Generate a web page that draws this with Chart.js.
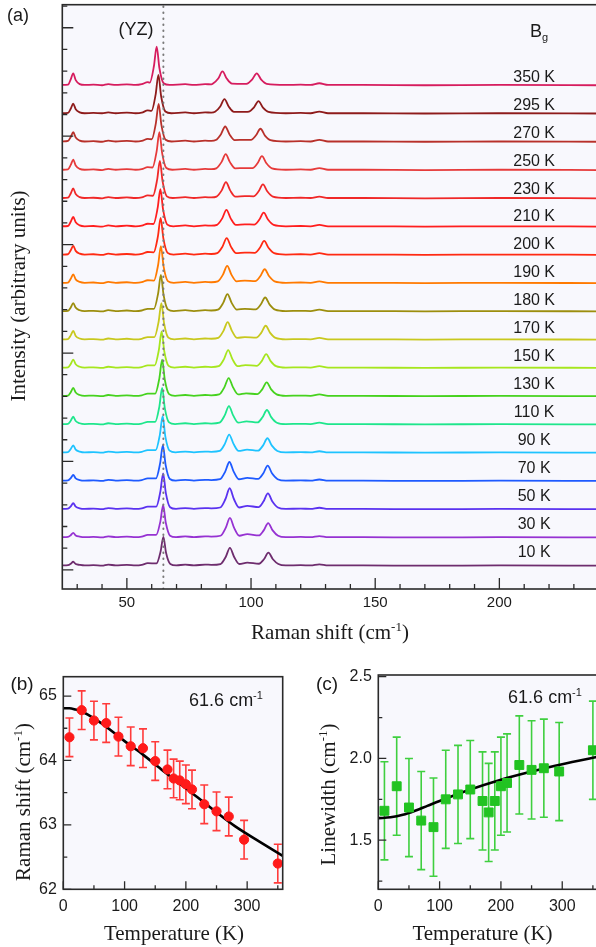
<!DOCTYPE html>
<html>
<head>
<meta charset="utf-8">
<script src="https://cdn.jsdelivr.net/npm/chart.js@4.4.0/dist/chart.umd.min.js"></script>
<style>
  html, body { margin: 0; padding: 0; background: #fff; overflow: hidden; width: 596px; height: 947px; }
  canvas { position: absolute; }
</style>
</head>
<body>
<canvas id="spectraChart" width="610" height="650" style="left:0;top:0"></canvas>
<canvas id="shiftChart" width="300" height="297" style="left:0;top:650px"></canvas>
<canvas id="widthChart" width="310" height="297" style="left:300px;top:650px"></canvas>
<script>
// ---- panel (a): Raman spectra, top (350 K) to bottom (10 K), [shift, intensity]
const tempLabels = ["350 K", "295 K", "270 K", "250 K", "230 K", "210 K", "200 K", "190 K", "180 K",
  "170 K", "150 K", "130 K", "110 K", "90 K", "70 K", "50 K", "30 K", "10 K"];
const tempColors = ["#d61c5e", "#8e1b1b", "#b8302a", "#e63a3a", "#f02828", "#ff1e1e", "#ff2a12", "#ff7a00", "#9c8e0e",
  "#c8c81e", "#a6e61e", "#46d21e", "#1ee68c", "#1ec3ff", "#1e5aff", "#5a32f0", "#9632d2", "#6e2d6e"];

const s350 = [[24,.02],[26.3,.03],[27.4,.22],[28.4,.43],[29.4,.19],[31,.05],[33,.02],[36.5,.03],[40,.01],[42.5,.05],[45.5,.02],[50,.04],[53.5,.02],[56,.05],[58.4,.12],[59.2,.1],[60.9,.69],[62,1.38],[63.1,.62],[64.8,.08],[67.2,.02],[73.5,.05],[77,.02],[81.5,.05],[84,.04],[84.7,.07],[86.8,.25],[88.5,.5],[90.2,.25],[92.3,.07],[97.5,.06],[98.5,.07],[100.5,.22],[102.3,.43],[104.1,.21],[106.3,.06],[114,.02],[120,.03],[124,.02],[127.5,.08],[131,.02],[145,.02],[170,.01],[200,.02],[240,.01]];
const s295 = [[24,.02],[26.3,.03],[27.4,.18],[28.4,.36],[29.4,.16],[31,.05],[33,.02],[36.5,.03],[40,.02],[42.5,.05],[45.5,.02],[50,.04],[53.5,.02],[56,.04],[58.4,.12],[59.9,.1],[61.6,.69],[62.7,1.38],[63.8,.62],[65.5,.08],[67.9,.02],[73.5,.05],[77,.02],[81.5,.05],[84,.04],[85.5,.07],[87.6,.26],[89.3,.52],[91,.26],[93.1,.07],[97.5,.07],[99.2,.08],[101.2,.23],[103,.45],[104.8,.22],[107,.07],[114,.02],[120,.03],[124,.02],[127.5,.08],[131,.02],[145,.02],[170,.01],[200,.02],[240,.01]];
const s270 = [[24,.02],[26.3,.04],[27.4,.18],[28.4,.35],[29.4,.16],[31,.05],[33,.02],[36.5,.03],[40,.01],[42.5,.05],[45.5,.02],[50,.04],[53.5,.02],[56,.04],[58.4,.11],[60,.1],[61.7,.68],[62.8,1.35],[63.9,.61],[65.6,.08],[68,.02],[73.5,.05],[77,.02],[81.5,.05],[84,.04],[85.8,.07],[87.9,.28],[89.6,.55],[91.3,.28],[93.4,.07],[97.5,.08],[100,.08],[102,.24],[103.8,.47],[105.6,.23],[107.8,.07],[114,.02],[120,.03],[124,.02],[127.5,.08],[131,.02],[145,.02],[170,.01],[200,.02],[240,.01]];
const s250 = [[24,.02],[26.3,.03],[27.4,.19],[28.4,.38],[29.4,.17],[31,.05],[33,.02],[36.5,.03],[40,.01],[42.5,.05],[45.5,.02],[50,.04],[53.5,.02],[56,.04],[58.4,.11],[60.3,.1],[62,.68],[63.1,1.35],[64.2,.61],[65.9,.08],[68.3,.02],[73.5,.05],[77,.02],[81.5,.05],[84,.04],[86,.07],[88.1,.29],[89.8,.57],[91.5,.29],[93.6,.07],[97.5,.08],[100.6,.08],[102.6,.25],[104.4,.5],[106.2,.25],[108.4,.07],[114,.02],[120,.03],[124,.02],[127.5,.08],[131,.02],[145,.02],[170,.01],[200,.02],[240,.01]];
const s230 = [[24,.02],[26.3,.03],[27.4,.18],[28.4,.36],[29.4,.16],[31,.05],[33,.02],[36.5,.03],[40,.01],[42.5,.05],[45.5,.02],[50,.04],[53.5,.02],[56,.04],[58.4,.11],[60.5,.1],[62.2,.67],[63.3,1.33],[64.4,.6],[66.1,.08],[68.5,.02],[73.5,.05],[77,.02],[81.5,.05],[84,.04],[86.1,.07],[88.2,.29],[89.9,.58],[91.6,.29],[93.7,.07],[97.5,.09],[101,.08],[103,.25],[104.8,.5],[106.6,.25],[108.8,.07],[114,.02],[120,.03],[124,.02],[127.5,.07],[131,.02],[145,.02],[170,.01],[200,.02],[240,.01]];
const s210 = [[24,.02],[26.3,.03],[27.4,.18],[28.4,.35],[29.4,.16],[31,.05],[33,.02],[36.5,.03],[40,.01],[42.5,.05],[45.5,.02],[50,.04],[53.5,.02],[56,.04],[58.4,.11],[60.7,.1],[62.4,.67],[63.5,1.33],[64.6,.6],[66.3,.08],[68.7,.02],[73.5,.05],[77,.02],[81.5,.05],[84,.04],[86.3,.07],[88.4,.3],[90.1,.6],[91.8,.3],[93.9,.07],[97.5,.09],[101.3,.08],[103.3,.25],[105.1,.5],[106.9,.25],[109.1,.07],[114,.02],[120,.03],[124,.02],[127.5,.07],[131,.02],[145,.02],[170,.01],[200,.02],[240,.01]];
const s200 = [[24,.02],[26.3,.03],[27.4,.17],[28.4,.33],[29.4,.15],[31,.05],[33,.02],[36.5,.03],[40,.01],[42.5,.05],[45.5,.02],[50,.04],[53.5,.02],[56,.04],[58.4,.11],[60.8,.1],[62.5,.66],[63.6,1.32],[64.7,.59],[66.4,.08],[68.8,.02],[73.5,.05],[77,.02],[81.5,.05],[84,.04],[86.4,.07],[88.5,.3],[90.2,.6],[91.9,.3],[94,.07],[97.5,.09],[101.5,.08],[103.5,.25],[105.3,.5],[107.1,.25],[109.3,.07],[114,.02],[120,.03],[124,.02],[127.5,.07],[131,.02],[145,.02],[170,.01],[200,.02],[240,.01]];
const s190 = [[24,.02],[26.3,.03],[27.4,.16],[28.4,.32],[29.4,.14],[31,.05],[33,.02],[36.5,.03],[40,.01],[42.5,.05],[45.5,.02],[50,.04],[53.5,.02],[56,.04],[58.4,.11],[60.9,.1],[62.6,.66],[63.7,1.32],[64.8,.59],[66.5,.08],[68.9,.02],[73.5,.05],[77,.02],[81.5,.05],[84,.04],[86.6,.07],[88.7,.31],[90.4,.62],[92.1,.31],[94.2,.07],[97.5,.1],[101.7,.08],[103.7,.25],[105.5,.5],[107.3,.25],[109.5,.07],[114,.02],[120,.03],[124,.02],[127.5,.07],[131,.02],[145,.02],[170,.01],[200,.02],[240,.01]];
const s180 = [[24,.02],[26.3,.03],[27.4,.15],[28.4,.3],[29.4,.14],[31,.05],[33,.02],[36.5,.03],[40,.01],[42.5,.05],[45.5,.02],[50,.04],[53.5,.02],[56,.04],[58.4,.1],[60.9,.1],[62.6,.65],[63.7,1.3],[64.8,.58],[66.5,.08],[68.9,.02],[73.5,.05],[77,.02],[81.5,.05],[84,.04],[86.7,.07],[88.8,.31],[90.5,.62],[92.2,.31],[94.3,.07],[97.5,.1],[101.9,.08],[103.9,.25],[105.7,.5],[107.5,.25],[109.7,.07],[114,.02],[120,.03],[124,.02],[127.5,.07],[131,.02],[145,.02],[170,.01],[200,.02],[240,.01]];
const s170 = [[24,.02],[26.3,.03],[27.4,.16],[28.4,.32],[29.4,.14],[31,.05],[33,.02],[36.5,.03],[40,.01],[42.5,.05],[45.5,.02],[50,.04],[53.5,.02],[56,.04],[58.4,.1],[61.1,.1],[62.8,.65],[63.9,1.3],[65,.58],[66.7,.08],[69.1,.02],[73.5,.05],[77,.02],[81.5,.05],[84,.04],[86.8,.07],[88.9,.32],[90.6,.63],[92.3,.32],[94.4,.07],[97.5,.1],[102.1,.08],[104.1,.25],[105.9,.5],[107.7,.25],[109.9,.07],[114,.02],[120,.03],[124,.02],[127.5,.07],[131,.02],[145,.02],[170,.01],[200,.02],[240,.01]];
const s150 = [[24,.02],[26.3,.03],[27.4,.15],[28.4,.3],[29.4,.14],[31,.05],[33,.02],[36.5,.03],[40,.01],[42.5,.05],[45.5,.02],[50,.04],[53.5,.02],[56,.04],[58.4,.1],[61.2,.1],[62.9,.65],[64,1.3],[65.1,.58],[66.8,.08],[69.2,.02],[73.5,.05],[77,.02],[81.5,.05],[84,.04],[87,.07],[89.1,.32],[90.8,.64],[92.5,.32],[94.6,.07],[97.7,.11],[102.3,.08],[104.3,.25],[106.1,.5],[107.9,.25],[110.1,.07],[114,.02],[120,.03],[124,.02],[127.5,.07],[131,.02],[145,.02],[170,.01],[200,.02],[240,.01]];
const s130 = [[24,.02],[26.3,.03],[27.4,.15],[28.4,.3],[29.4,.14],[31,.05],[33,.02],[36.5,.03],[40,.01],[42.5,.05],[45.5,.02],[50,.04],[53.5,.02],[56,.04],[58.4,.1],[61.4,.1],[63.1,.65],[64.2,1.3],[65.3,.58],[67,.08],[69.4,.02],[73.5,.05],[77,.02],[81.5,.05],[84,.04],[87.2,.07],[89.3,.33],[91,.65],[92.7,.33],[94.8,.07],[98,.11],[102.5,.08],[104.5,.25],[106.3,.5],[108.1,.25],[110.3,.07],[114,.02],[120,.03],[124,.02],[127.5,.07],[131,.02],[145,.02],[170,.01],[200,.02],[240,.01]];
const s110 = [[24,.02],[26.3,.03],[27.4,.14],[28.4,.28],[29.4,.13],[31,.05],[33,.02],[36.5,.03],[40,.01],[42.5,.05],[45.5,.02],[50,.04],[53.5,.02],[56,.04],[58.4,.1],[61.4,.1],[63.1,.65],[64.2,1.3],[65.3,.58],[67,.08],[69.4,.02],[73.5,.05],[77,.02],[81.5,.05],[84,.04],[87.3,.07],[89.4,.33],[91.1,.66],[92.8,.33],[94.9,.07],[98.2,.12],[102.6,.08],[104.6,.26],[106.4,.52],[108.2,.26],[110.4,.07],[114,.02],[120,.03],[124,.02],[127.5,.07],[131,.02],[145,.02],[170,.01],[200,.02],[240,.01]];
const s90 = [[24,.02],[26.3,.03],[27.4,.14],[28.4,.27],[29.4,.12],[31,.05],[33,.02],[36.5,.03],[40,.01],[42.5,.05],[45.5,.02],[50,.04],[53.5,.02],[56,.04],[58.4,.1],[61.6,.1],[63.3,.65],[64.4,1.3],[65.5,.58],[67.2,.08],[69.6,.02],[73.5,.05],[77,.02],[81.5,.05],[84,.04],[87.4,.07],[89.5,.33],[91.2,.65],[92.9,.33],[95,.07],[98.4,.12],[102.8,.08],[104.8,.26],[106.6,.52],[108.4,.26],[110.6,.07],[114,.02],[120,.03],[124,.02],[127.5,.06],[131,.02],[145,.02],[170,.01],[200,.02],[240,.01]];
const s70 = [[24,.02],[26.3,.03],[27.4,.11],[28.4,.22],[29.4,.1],[31,.04],[33,.02],[36.5,.03],[40,.01],[42.5,.05],[45.5,.02],[50,.04],[53.5,.02],[56,.04],[58.4,.1],[61.7,.1],[63.4,.64],[64.5,1.28],[65.6,.58],[67.3,.08],[69.7,.02],[73.5,.05],[77,.02],[81.5,.05],[84,.04],[87.5,.07],[89.6,.34],[91.3,.68],[93,.34],[95.1,.07],[98.5,.12],[102.9,.08],[104.9,.27],[106.7,.55],[108.5,.27],[110.7,.07],[114,.02],[120,.03],[124,.02],[127.5,.06],[131,.02],[145,.02],[170,.01],[200,.02],[240,.01]];
const s50 = [[24,.02],[26.3,.03],[27.4,.11],[28.4,.22],[29.4,.1],[31,.04],[33,.02],[36.5,.03],[40,.01],[42.5,.05],[45.5,.02],[50,.04],[53.5,.02],[56,.04],[58.4,.1],[61.8,.1],[63.5,.64],[64.6,1.28],[65.7,.58],[67.4,.08],[69.8,.02],[73.5,.05],[77,.02],[81.5,.05],[84,.04],[87.6,.07],[89.7,.37],[91.4,.75],[93.1,.37],[95.2,.07],[98.5,.13],[103,.08],[105,.28],[106.8,.57],[108.6,.28],[110.8,.07],[114,.02],[120,.03],[124,.02],[127.5,.06],[131,.02],[145,.02],[170,.01],[200,.02],[240,.01]];
const s30 = [[24,.02],[26.3,.03],[27.4,.09],[28.4,.17],[29.4,.08],[31,.04],[33,.02],[36.5,.03],[40,.01],[42.5,.05],[45.5,.02],[50,.04],[53.5,.02],[56,.04],[58.4,.1],[61.8,.1],[63.5,.58],[64.6,1.15],[65.7,.52],[67.4,.07],[69.8,.02],[73.5,.05],[77,.02],[81.5,.05],[84,.04],[87.7,.07],[89.8,.35],[91.5,.7],[93.2,.35],[95.3,.07],[98.5,.13],[103.1,.08],[105.1,.26],[106.9,.52],[108.7,.26],[110.9,.07],[114,.02],[120,.03],[124,.02],[127.5,.06],[131,.02],[145,.02],[170,.01],[200,.02],[240,.01]];
const s10 = [[24,.02],[26.3,.03],[27.4,.08],[28.4,.15],[29.4,.07],[31,.04],[33,.02],[36.5,.03],[40,.01],[42.5,.05],[45.5,.02],[50,.04],[53.5,.02],[56,.04],[58.4,.1],[61.9,.09],[63.6,.52],[64.7,1.03],[65.8,.46],[67.5,.07],[69.9,.02],[73.5,.05],[77,.02],[81.5,.05],[84,.04],[87.7,.07],[89.8,.32],[91.5,.64],[93.2,.32],[95.3,.07],[98.5,.12],[103.2,.08],[105.2,.24],[107,.47],[108.8,.24],[111,.07],[114,.02],[120,.03],[124,.02],[127.5,.06],[131,.02],[145,.02],[170,.01],[200,.02],[240,.01]];
const spectra = [s350, s295, s270, s250, s230, s210, s200, s190, s180, s170, s150, s130, s110, s90, s70, s50, s30, s10];

const refShift = 64.7;           // dotted line
const shiftTicks = [50, 100, 150, 200];

// ---- panels (b) and (c): 61.6 cm-1 mode vs temperature
const tempK = [10, 30, 50, 70, 90, 110, 130, 150, 170, 180, 190, 200, 210, 230, 250, 270, 295, 350];
const peakShift = [64.36, 64.78, 64.62, 64.58, 64.37, 64.22, 64.19, 63.99, 63.86, 63.72, 63.69, 63.63, 63.55, 63.32, 63.21, 63.13, 62.77, 62.40];
const peakShiftErr = [0.3, 0.3, 0.3, 0.3, 0.3, 0.3, 0.3, 0.3, 0.3, 0.3, 0.3, 0.3, 0.3, 0.3, 0.3, 0.3, 0.3, 0.3];
const lineWidth = [1.68, 1.83, 1.70, 1.62, 1.58, 1.75, 1.78, 1.81, 1.74, 1.67, 1.74, 1.83, 1.85, 1.96, 1.93, 1.94, 1.92, 2.05];
const lineWidthErr = [0.3, 0.3, 0.3, 0.3, 0.3, 0.3, 0.3, 0.3, 0.3, 0.3, 0.3, 0.3, 0.3, 0.3, 0.3, 0.3, 0.3, 0.3];

const fitShiftT = [0, 10, 20, 30, 40, 60, 80, 100, 130, 160, 200, 240, 280, 320, 358];
const fitShift = [64.81, 64.81, 64.79, 64.76, 64.71, 64.59, 64.45, 64.30, 64.09, 63.86, 63.57, 63.27, 62.98, 62.74, 62.52];
const fitWidthT = [0, 20, 40, 60, 80, 100, 150, 200, 250, 300, 358];
const fitWidth = [1.635, 1.64, 1.655, 1.68, 1.71, 1.74, 1.81, 1.87, 1.92, 1.965, 2.01];

const tempTicks = [0, 100, 200, 300];
const shiftAxisTicks = [62, 63, 64, 65];
const widthAxisTicks = [1.5, 2.0, 2.5];

const SANS = '"Liberation Sans", Arial, sans-serif';
const SERIF = '"Liberation Serif", "Times New Roman", serif';
Chart.defaults.font.family = SANS;
Chart.defaults.color = "#1a1a1a";

// frame, light plot background and inward tick marks
const frameTicks = {
  id: "frameTicks",
  beforeDraw(chart) {
    const { ctx, chartArea: a } = chart;
    ctx.save();
    ctx.fillStyle = "#f8f8fd";
    ctx.fillRect(a.left, a.top, a.right - a.left, a.bottom - a.top);
    ctx.restore();
  },
  afterDraw(chart, args, opts) {
    const { ctx, chartArea: a, scales } = chart;
    ctx.save();
    ctx.strokeStyle = "#2a2a2a";
    ctx.lineWidth = 1.6;
    ctx.strokeRect(a.left, a.top, a.right - a.left, a.bottom - a.top);
    ctx.lineWidth = 1.3;
    ctx.beginPath();
    (opts.xTicks || []).forEach(([v, len]) => {
      const px = scales.x.getPixelForValue(v);
      ctx.moveTo(px, a.bottom);
      ctx.lineTo(px, a.bottom - len);
    });
    (opts.yTicks || []).forEach(([v, len]) => {
      const py = scales.y.getPixelForValue(v);
      ctx.moveTo(a.left, py);
      ctx.lineTo(a.left + len, py);
    });
    ctx.stroke();
    ctx.restore();
  },
};

const errorBars = {
  id: "errorBars",
  beforeDatasetsDraw(chart) {
    const { ctx, scales: { x, y } } = chart;
    chart.data.datasets.forEach((ds) => {
      if (!ds.errors) return;
      ctx.save();
      ctx.strokeStyle = ds.errorColor;
      ctx.lineWidth = 1.6;
      ctx.beginPath();
      ds.data.forEach((p, i) => {
        const px = x.getPixelForValue(p.x);
        const top = y.getPixelForValue(p.y + ds.errors[i]);
        const bot = y.getPixelForValue(p.y - ds.errors[i]);
        ctx.moveTo(px, top); ctx.lineTo(px, bot);
        ctx.moveTo(px - 4, top); ctx.lineTo(px + 4, top);
        ctx.moveTo(px - 4, bot); ctx.lineTo(px + 4, bot);
      });
      ctx.stroke();
      ctx.restore();
    });
  },
};
Chart.register(frameTicks, errorBars);

// text with optional super/subscript pieces, centred on (x, y)
function richText(ctx, parts, x, y, size, family, rotate) {
  ctx.save();
  ctx.translate(x, y);
  if (rotate) ctx.rotate(-Math.PI / 2);
  ctx.fillStyle = "#1a1a1a";
  ctx.textAlign = "left";
  ctx.textBaseline = "alphabetic";
  const sizes = parts.map((p) => (p.sup || p.sub ? Math.round(size * 0.62) : size));
  const widths = parts.map((p, i) => {
    ctx.font = `${sizes[i]}px ${family}`;
    return ctx.measureText(p.t).width;
  });
  let cx = -widths.reduce((s, w) => s + w, 0) / 2;
  parts.forEach((p, i) => {
    ctx.font = `${sizes[i]}px ${family}`;
    let dy = size * 0.35;
    if (p.sup) dy -= size * 0.42;
    if (p.sub) dy += size * 0.22;
    ctx.fillText(p.t, cx, dy);
    cx += widths[i];
  });
  ctx.restore();
}

const fixedTicks = (values) => (scale) => {
  scale.ticks = values.map((v) => ({ value: v }));
};

// ---------------- panel (a)
const nSpec = spectra.length;
const yMinA = -0.814, yMaxA = 19.86;
const specDatasets = spectra.map((s, i) => ({
  label: tempLabels[i],
  data: s.map(([x, v]) => ({ x, y: v + (nSpec - 1 - i) })),
  borderColor: tempColors[i],
  borderWidth: 1.8,
  pointRadius: 0,
  cubicInterpolationMode: "monotone",
}));
const refLine = {
  label: "ref",
  data: [{ x: refShift, y: yMinA }, { x: refShift, y: yMaxA }],
  borderColor: "#7a7a7a",
  borderWidth: 2,
  borderDash: [0.5, 5.5],
  borderCapStyle: "round",
  pointRadius: 0,
};

const yTickMarksA = [];
for (let k = 0; k <= 26; k++) yTickMarksA.push([19.812 - 0.7673 * k, k % 5 === 1 ? 11 : 5]);
const xTickMarksA = [];
for (let v = 30; v <= 230; v += 10) xTickMarksA.push([v, shiftTicks.includes(v) ? 11 : 5]);

new Chart(document.getElementById("spectraChart"), {
  type: "line",
  data: { datasets: [refLine, ...specDatasets] },
  options: {
    responsive: false,
    animation: false,
    layout: { padding: { left: 0, right: 11.3, top: 4.7, bottom: 0 } },
    plugins: {
      legend: { display: false },
      tooltip: { enabled: false },
      frameTicks: { xTicks: xTickMarksA, yTicks: yTickMarksA },
    },
    scales: {
      x: {
        type: "linear", min: 24, max: 240,
        afterBuildTicks: fixedTicks(shiftTicks),
        afterFit: (s) => { s.height = 61; },
        grid: { display: false, drawTicks: false },
        border: { display: false },
        ticks: { font: { size: 15 }, padding: 5, color: "#1a1a1a" },
      },
      y: {
        type: "linear", min: yMinA, max: yMaxA,
        afterFit: (s) => { s.width = 62.3; },
        grid: { display: false, drawTicks: false },
        border: { display: false },
        ticks: { display: false },
      },
    },
  },
  plugins: [{
    id: "notesA",
    afterDraw(chart) {
      const { ctx, scales: { x, y } } = chart;
      richText(ctx, [{ t: "(a)" }], 18, 15, 18, SANS);
      richText(ctx, [{ t: "(YZ)" }], 136, 29, 18, SANS);
      richText(ctx, [{ t: "B" }, { t: "g", sub: true }], 539, 31, 18, SANS);
      tempLabels.forEach((lbl, i) => {
        const off = nSpec - 1 - i;
        richText(ctx, [{ t: lbl }], x.getPixelForValue(214), y.getPixelForValue(off + 0.52 - 0.011 * off), 16, SANS);
      });
      richText(ctx, [{ t: "Raman shift (cm" }, { t: "-1", sup: true }, { t: ")" }], 330, 632, 21, SERIF);
      richText(ctx, [{ t: "Intensity (arbitrary units)" }], 18, 296, 21, SERIF, true);
    },
  }],
});

// ---------------- panels (b) and (c)
const tempMarks = [[0, 8], [50, 4], [100, 8], [150, 4], [200, 8], [250, 4], [300, 8], [350, 4]];

new Chart(document.getElementById("shiftChart"), {
  type: "scatter",
  data: {
    datasets: [
      {
        label: "shift",
        data: tempK.map((t, i) => ({ x: t, y: peakShift[i] })),
        errors: peakShiftErr,
        errorColor: "#ff3b3b",
        backgroundColor: "#ff1a1a",
        borderColor: "#ff1a1a",
        pointRadius: 4.6,
      },
      {
        label: "fit",
        data: fitShiftT.map((t, i) => ({ x: t, y: fitShift[i] })),
        showLine: true,
        borderColor: "#000",
        borderWidth: 2.6,
        pointRadius: 0,
        cubicInterpolationMode: "monotone",
      },
    ],
  },
  options: {
    responsive: false,
    animation: false,
    layout: { padding: { left: 0, right: 17.3, top: 26.7, bottom: 0 } },
    plugins: {
      legend: { display: false },
      tooltip: { enabled: false },
      frameTicks: {
        xTicks: tempMarks,
        yTicks: [[62, 8], [62.5, 4], [63, 8], [63.5, 4], [64, 8], [64.5, 4], [65, 8]],
      },
    },
    scales: {
      x: {
        type: "linear", min: 0, max: 358,
        afterBuildTicks: fixedTicks(tempTicks),
        afterFit: (s) => { s.height = 57.7; },
        grid: { display: false, drawTicks: false },
        border: { display: false },
        ticks: { font: { size: 16 }, padding: 7.5, color: "#1a1a1a" },
      },
      y: {
        type: "linear", min: 62, max: 65.3,
        afterBuildTicks: fixedTicks(shiftAxisTicks),
        afterFit: (s) => { s.width = 63.3; },
        grid: { display: false, drawTicks: false },
        border: { display: false },
        ticks: { font: { size: 16 }, padding: 6.5, color: "#1a1a1a" },
      },
    },
  },
  plugins: [{
    id: "notesB",
    afterDraw(chart) {
      const { ctx } = chart;
      richText(ctx, [{ t: "(b)" }], 22, 33, 19, SANS);
      richText(ctx, [{ t: "61.6 cm" }, { t: "-1", sup: true }], 226, 50, 18, SANS);
      richText(ctx, [{ t: "Temperature (K)" }], 174, 283, 21, SERIF);
      richText(ctx, [{ t: "Raman shift (cm" }, { t: "-1", sup: true }, { t: ")" }], 23, 152, 21, SERIF, true);
    },
  }],
});

new Chart(document.getElementById("widthChart"), {
  type: "scatter",
  data: {
    datasets: [
      {
        label: "width",
        data: tempK.map((t, i) => ({ x: t, y: lineWidth[i] })),
        errors: lineWidthErr,
        errorColor: "#3fcf3f",
        backgroundColor: "#22c322",
        borderColor: "#22c322",
        pointStyle: "rect",
        pointRadius: 6.3,
      },
      {
        label: "fit",
        data: fitWidthT.map((t, i) => ({ x: t, y: fitWidth[i] })),
        showLine: true,
        borderColor: "#000",
        borderWidth: 2.6,
        pointRadius: 0,
        cubicInterpolationMode: "monotone",
      },
    ],
  },
  options: {
    responsive: false,
    animation: false,
    layout: { padding: { left: 0, right: 12.2, top: 25, bottom: 0 } },
    plugins: {
      legend: { display: false },
      tooltip: { enabled: false },
      frameTicks: {
        xTicks: tempMarks,
        yTicks: [[1.25, 4], [1.5, 8], [1.75, 4], [2.0, 8], [2.25, 4], [2.5, 8]],
      },
    },
    scales: {
      x: {
        type: "linear", min: 0, max: 358,
        afterBuildTicks: fixedTicks(tempTicks),
        afterFit: (s) => { s.height = 57.7; },
        grid: { display: false, drawTicks: false },
        border: { display: false },
        ticks: { font: { size: 16 }, padding: 7.5, color: "#1a1a1a" },
      },
      y: {
        type: "linear", min: 1.2, max: 2.51,
        afterBuildTicks: fixedTicks(widthAxisTicks),
        afterFit: (s) => { s.width = 78.3; },
        grid: { display: false, drawTicks: false },
        border: { display: false },
        ticks: { font: { size: 16 }, padding: 6.5, color: "#1a1a1a", callback: (v) => v.toFixed(1) },
      },
    },
  },
  plugins: [{
    id: "notesC",
    afterDraw(chart) {
      const { ctx } = chart;
      richText(ctx, [{ t: "(c)" }], 27, 33, 19, SANS);
      richText(ctx, [{ t: "61.6 cm" }, { t: "-1", sup: true }], 245, 47, 18, SANS);
      richText(ctx, [{ t: "Temperature (K)" }], 182.5, 283, 21, SERIF);
      richText(ctx, [{ t: "Linewidth (cm" }, { t: "-1", sup: true }, { t: ")" }], 28, 144.5, 21, SERIF, true);
    },
  }],
});
</script>
</body>
</html>
